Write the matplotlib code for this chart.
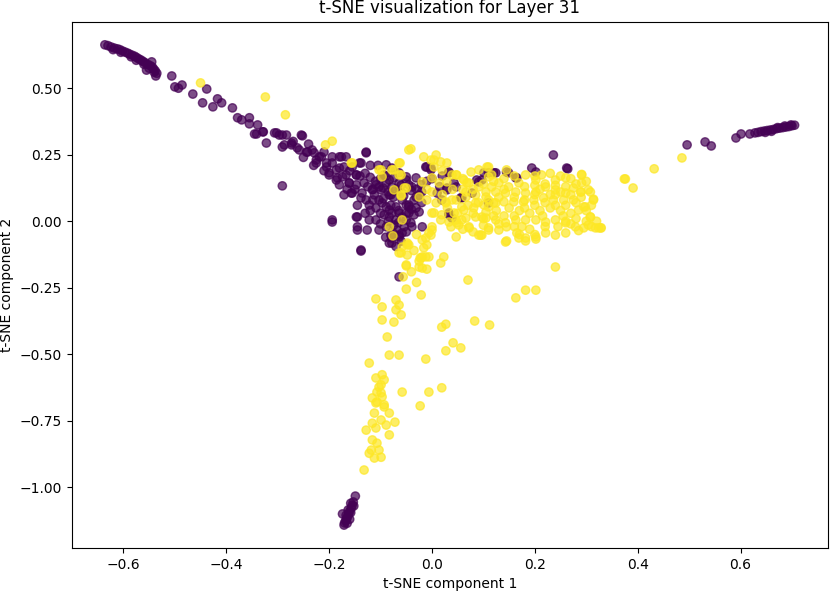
import numpy as np
import matplotlib
matplotlib.use('Agg')
import matplotlib.pyplot as plt

# Puntos de la clase 0 (morado)
clase0_x = [
    -0.636, -0.630, -0.624, -0.618, -0.612, -0.607, -0.602, -0.597, -0.592, -0.588,
    -0.583, -0.578, -0.574, -0.570, -0.566, -0.562, -0.558, -0.553, -0.548, -0.544,
    -0.541, -0.538, -0.535, -0.540, -0.550, -0.560, -0.545, -0.575, -0.585, -0.555,
    -0.537, -0.605, -0.620,
    -0.506, -0.500, -0.486, -0.493, -0.465, -0.446, -0.438, -0.426, -0.417, -0.409,
    -0.388, -0.378, -0.370, -0.355, -0.355, -0.339, -0.341, -0.328, -0.322, -0.306,
    -0.297, -0.283, -0.291, -0.273, -0.252, -0.262, -0.244, -0.233, -0.225, -0.219,
    -0.205, -0.194, -0.180, -0.167, -0.128, -0.138, -0.155, -0.200, -0.186, -0.174,
    -0.161, -0.291, -0.147, -0.132, -0.155, -0.138, -0.116, -0.103, -0.083, -0.078,
    -0.058, -0.103, -0.089, -0.078, -0.050, -0.050, -0.147, -0.194,
    -0.345, -0.329, -0.302, -0.291, -0.287, -0.273, -0.254, -0.258, -0.242, -0.229,
    -0.225, -0.215, -0.205, -0.194, -0.186, -0.176, -0.171, -0.200, -0.184, -0.167,
    -0.161, -0.147, -0.141, -0.128, -0.147, -0.136, -0.128, -0.157, -0.109, -0.099,
    -0.089, -0.089, -0.078, -0.083, -0.064, -0.050, -0.045, -0.031, -0.021, -0.097,
    -0.109, -0.083, -0.070, -0.058, -0.045, -0.031, -0.109, -0.083, -0.070, -0.058,
    -0.045, -0.089, -0.068, -0.054, -0.041, -0.078, -0.064, -0.083, -0.122, -0.126,
    -0.145, -0.145, -0.194, -0.138, -0.012, -0.002, 0.033, 0.029, 0.047, 0.058,
    0.033, 0.039, -0.019, 0.010, 0.019, 0.097, 0.110, 0.124,
    -0.064, -0.050, -0.039, -0.045, -0.031, -0.064, -0.050, -0.039, -0.058, -0.010,
    -0.002, 0.033, 0.043, 0.029, 0.056, 0.078, 0.087, 0.101, 0.120, 0.110,
    0.033, 0.149, 0.165, 0.194, 0.202, 0.236, 0.262, 0.163, 0.145, 0.091,
    -0.145, -0.138, -0.078, -0.064, -0.080, -0.064,
    -0.093, -0.074, -0.080, -0.064, -0.093, -0.074, -0.103, -0.035, -0.025, -0.112,
    -0.122, -0.171, -0.180,
    # núcleo denso
    -0.130, -0.120, -0.110, -0.100, -0.090, -0.125, -0.115, -0.095, -0.085, -0.070,
    -0.060, -0.040, -0.030, -0.020, -0.115, -0.095, -0.075, -0.055, -0.035, -0.020,
    -0.120, -0.100, -0.080, -0.065, -0.040, -0.025, -0.100, -0.085, -0.065, -0.050,
    -0.075, -0.090, -0.060, -0.070, -0.165, -0.180, -0.160, -0.210, -0.230, -0.250,
    -0.140, -0.120, -0.105, -0.010, 0.000, 0.015, 0.020, -0.145, -0.130, -0.150,
    -0.270, -0.240, -0.210,
    # grupo inferior
    -0.149, -0.153, -0.155, -0.157, -0.160, -0.162, -0.164, -0.166, -0.168, -0.170,
    -0.171, -0.174, -0.158, -0.163, -0.167, -0.160, -0.165, -0.152, -0.158,
    # brazo derecho
    0.496, 0.531, 0.543, 0.591, 0.601, 0.618, 0.628, 0.634, 0.640, 0.646,
    0.652, 0.658, 0.664, 0.670, 0.676, 0.682, 0.688, 0.694, 0.700, 0.705,
    0.698, 0.686, 0.672, 0.660, 0.648, 0.264,
]
clase0_y = [
    0.663, 0.660, 0.655, 0.651, 0.648, 0.645, 0.640, 0.636, 0.632, 0.628,
    0.624, 0.620, 0.615, 0.610, 0.606, 0.601, 0.596, 0.590, 0.585, 0.580,
    0.572, 0.565, 0.556, 0.560, 0.575, 0.590, 0.599, 0.605, 0.618, 0.568,
    0.546, 0.635, 0.645,
    0.546, 0.505, 0.512, 0.500, 0.478, 0.445, 0.497, 0.430, 0.460, 0.445,
    0.426, 0.389, 0.381, 0.389, 0.366, 0.362, 0.328, 0.336, 0.294, 0.332,
    0.324, 0.324, 0.279, 0.287, 0.321, 0.276, 0.260, 0.268, 0.230, 0.242,
    0.219, 0.219, 0.242, 0.242, 0.257, 0.219, 0.204, 0.182, 0.155, 0.167,
    0.144, 0.133, 0.174, 0.144, 0.106, 0.088, 0.118, 0.129, 0.155, 0.129,
    0.106, 0.080, 0.054, 0.031, 0.061, 0.031, 0.016, 0.005,
    0.328, 0.336, 0.332, 0.324, 0.287, 0.294, 0.324, 0.268, 0.260, 0.257,
    0.219, 0.242, 0.204, 0.242, 0.193, 0.242, 0.204, 0.174, 0.163, 0.174,
    0.144, 0.174, 0.219, 0.260, 0.137, 0.106, 0.080, 0.106, 0.137, 0.118,
    0.144, 0.212, 0.200, 0.099, 0.144, 0.167, 0.137, 0.163, 0.137, 0.069,
    0.050, 0.042, 0.054, 0.080, 0.061, 0.050, 0.005, 0.016, 0.005, 0.016,
    0.031, -0.021, -0.033, -0.021, -0.006, -0.063, -0.059, -0.082, 0.005, -0.033,
    0.016, -0.021, -0.003, -0.108, 0.204, 0.200, 0.182, 0.118, 0.129, 0.088,
    0.024, 0.012, -0.021, 0.106, 0.080, 0.155, 0.182, 0.182,
    0.182, 0.155, 0.129, 0.054, 0.091, 0.031, 0.005, -0.021, -0.044, 0.204,
    0.193, 0.185, 0.144, 0.125, 0.088, 0.106, 0.155, 0.182, 0.182, 0.069,
    0.031, 0.182, 0.163, 0.200, 0.185, 0.249, 0.200, 0.163, 0.185, 0.148,
    -0.033, -0.112, -0.082, -0.209, -0.052, -0.052,
    0.174, 0.163, 0.099, 0.110, 0.024, -0.014, -0.033, 0.024, 0.099, 0.099,
    0.061, 0.099, 0.137,
    0.180, 0.165, 0.150, 0.160, 0.170, 0.130, 0.120, 0.125, 0.110, 0.120,
    0.135, 0.115, 0.120, 0.110, 0.080, 0.085, 0.090, 0.095, 0.080, 0.070,
    0.040, 0.030, 0.060, 0.040, 0.045, 0.035, -0.010, 0.000, -0.005, -0.040,
    -0.045, -0.060, -0.075, -0.095, 0.120, 0.200, 0.190, 0.190, 0.210, 0.240,
    0.170, 0.210, 0.210, 0.150, 0.160, 0.130, 0.170, 0.060, 0.030, 0.120,
    0.300, 0.290, 0.260,
    -1.033, -1.055, -1.067, -1.078, -1.090, -1.100, -1.110, -1.118, -1.126, -1.134,
    -1.142, -1.100, -1.060, -1.085, -1.105, -1.120, -1.135, -1.070, -1.095,
    0.287, 0.298, 0.283, 0.313, 0.328, 0.328, 0.332, 0.334, 0.337, 0.339,
    0.341, 0.343, 0.345, 0.348, 0.350, 0.352, 0.354, 0.356, 0.359, 0.361,
    0.362, 0.358, 0.352, 0.338, 0.334, 0.197,
]

# Puntos de la clase 1 (amarillo)
clase1_x = [
    -0.450, -0.324, -0.285, -0.207, -0.194, -0.155, -0.103, -0.097, -0.078, -0.064,
    -0.064, -0.074, -0.060, -0.050, -0.045,
    -0.157, -0.099, -0.074, -0.062, -0.060, -0.054, -0.060, -0.041, -0.019, -0.025,
    -0.016, -0.002, 0.008, 0.017, 0.029, 0.004, 0.014, 0.029, 0.047, -0.010,
    0.008, 0.027, 0.039, 0.004, 0.017, 0.033, 0.048, 0.000, -0.002, -0.019,
    -0.016, -0.019, -0.006, 0.023, 0.017, -0.025, -0.045, -0.058, -0.060, -0.048,
    -0.083, -0.076, 0.062, 0.072, 0.076, 0.091, 0.107, 0.110, 0.091, 0.066,
    0.058, 0.085, 0.105, 0.110, 0.097, 0.058, 0.072, 0.091, 0.110, 0.124,
    0.047, 0.124, 0.116,
    0.004, 0.000, 0.039, 0.048, 0.068, 0.110, 0.116, 0.145, 0.130, 0.149,
    0.169, 0.182, 0.202, 0.213, 0.240, 0.260, 0.291, 0.291, 0.289, 0.304,
    0.314, 0.275, 0.260, 0.240, 0.221, 0.202, 0.182, 0.163, 0.143, 0.124,
    0.105, 0.085, 0.066, 0.047, 0.027, 0.000, 0.019, 0.043, 0.062, 0.081,
    0.101, 0.120, 0.140, 0.159, 0.178, 0.198, 0.217, 0.236, 0.256, 0.275,
    0.295, 0.285, 0.308, 0.304, 0.324, 0.329, 0.295, 0.279, 0.260, 0.240,
    0.221, 0.202, 0.182, 0.163, 0.143, 0.105, 0.085, 0.066, 0.047, 0.037,
    0.052, 0.072, 0.110, 0.130, 0.145, 0.165, 0.182, 0.202, 0.221, 0.240,
    0.260, 0.143, 0.095, 0.000, -0.012, -0.021, -0.050, 0.240, 0.376, 0.391,
    -0.064, -0.048, -0.058,
    0.180, 0.200, 0.220, 0.240, 0.260, 0.150, 0.170, 0.190, 0.210, 0.230,
    0.250, 0.270, 0.230, 0.250, 0.270, 0.290, 0.300, 0.310, 0.320, 0.310,
    0.285, 0.255, 0.215, 0.175, 0.125, 0.105,
    # relleno de la nube principal
    0.060, 0.080, 0.100, 0.120, 0.140, 0.160, 0.200, 0.230, 0.250, 0.270,
    0.280, 0.300, 0.140, 0.160, 0.180, 0.200, 0.210, 0.240, 0.260, 0.280,
    0.290, 0.130, 0.110, 0.090, 0.070, 0.080, 0.100, 0.120, 0.140, 0.160,
    0.180, 0.200, 0.220, 0.240, 0.260, 0.280, 0.220, 0.190, 0.160, 0.130,
    0.100, 0.080, 0.060, 0.050, 0.030, 0.020, 0.040, 0.060, 0.020, 0.000,
    -0.010, 0.245, 0.270, 0.300, 0.200, 0.170,
    -0.030, -0.035, -0.025, -0.040, -0.030, -0.010,
    # brazo derecho y brazo inferior
    0.291, 0.308, 0.314, 0.298, 0.308, 0.328, 0.318, 0.374, 0.432, 0.486,
    0.097, 0.145, 0.169, 0.182, 0.202, -0.006, -0.010, -0.012, -0.048, -0.023,
    -0.019, -0.050, 0.070, -0.056, -0.050, -0.021, -0.109, -0.097, -0.070, -0.064,
    -0.070, -0.060, -0.097, -0.074, -0.087, -0.083, -0.064, -0.122, -0.012, 0.019,
    0.027, 0.083, 0.112, 0.041, 0.056, 0.027, 0.163, 0.182, 0.202,
    -0.109, -0.097, -0.093, -0.103, -0.099, -0.116, -0.107, -0.093, -0.058, -0.006,
    0.019, -0.023, -0.099, -0.107, -0.097, -0.109, -0.093, -0.112, -0.083, -0.099,
    -0.116, -0.128, -0.109, -0.089, -0.072, -0.083, -0.116, -0.107, -0.118, -0.103,
    -0.112, -0.099, -0.122, -0.132,
]
clase1_y = [
    0.520, 0.467, 0.400, 0.287, 0.301, 0.219, 0.193, 0.167, 0.193, 0.219,
    0.174, 0.118, 0.099, 0.125, 0.268,
    0.219, 0.193, 0.193, 0.219, 0.174, 0.125, 0.095, 0.272, 0.148, 0.091,
    0.242, 0.230, 0.249, 0.223, 0.219, 0.204, 0.144, 0.148, 0.174, 0.080,
    0.069, 0.069, 0.080, 0.031, 0.005, -0.003, -0.006, -0.021, -0.052, -0.070,
    -0.100, -0.134, -0.134, -0.134, -0.157, -0.172, -0.089, -0.097, -0.119, -0.127,
    -0.021, -0.055, 0.155, 0.144, 0.185, 0.193, 0.204, 0.167, 0.129, 0.110,
    0.054, 0.069, 0.091, 0.054, 0.016, 0.005, -0.021, -0.052, -0.033, 0.005,
    -0.059, 0.069, 0.129,
    0.230, 0.163, 0.174, 0.174, 0.144, 0.204, 0.174, 0.193, 0.144, 0.129,
    0.144, 0.174, 0.155, 0.174, 0.155, 0.163, 0.174, 0.144, 0.110, 0.118,
    0.080, 0.125, 0.106, 0.118, 0.129, 0.110, 0.106, 0.110, 0.106, 0.110,
    0.110, 0.099, 0.091, 0.080, 0.073, 0.031, 0.024, 0.031, 0.042, 0.050,
    0.061, 0.069, 0.073, 0.073, 0.073, 0.080, 0.088, 0.080, 0.080, 0.080,
    0.054, 0.042, 0.016, -0.014, -0.025, -0.025, -0.025, -0.021, -0.006, 0.005,
    -0.003, 0.005, 0.005, 0.005, -0.006, 0.012, 0.016, 0.012, 0.005, -0.021,
    -0.014, -0.025, -0.025, -0.033, -0.021, -0.044, -0.063, -0.059, -0.044, -0.052,
    -0.044, -0.078, -0.052, -0.033, -0.063, -0.138, -0.164, -0.172, 0.159, 0.125,
    -0.119, -0.089, 0.005,
    0.130, 0.135, 0.140, 0.135, 0.130, 0.050, 0.040, 0.030, 0.040, 0.050,
    0.040, 0.030, 0.100, 0.110, 0.100, 0.090, 0.040, 0.060, 0.000, -0.020,
    -0.035, 0.020, 0.020, -0.020, 0.040, 0.035,
    0.120, 0.120, 0.140, 0.150, 0.160, 0.170, 0.170, 0.180, 0.170, 0.160,
    0.140, 0.150, 0.120, 0.090, 0.080, 0.100, 0.120, 0.100, 0.060, 0.070,
    0.110, 0.090, 0.080, 0.070, 0.060, 0.030, 0.010, 0.020, 0.020, 0.020,
    0.050, 0.060, 0.070, 0.060, 0.000, 0.010, -0.020, -0.030, -0.020, -0.010,
    -0.015, -0.040, -0.030, 0.030, 0.050, 0.100, 0.120, 0.160, 0.190, 0.110,
    0.120, -0.020, -0.010, 0.000, -0.050, -0.050,
    -0.050, -0.110, -0.150, -0.190, -0.230, -0.180,
    0.176, 0.110, 0.083, 0.054, 0.016, -0.025, -0.025, 0.159, 0.197, 0.238,
    -0.052, -0.074, -0.063, -0.074, -0.067, -0.044, -0.089, -0.134, -0.082, -0.138,
    -0.176, -0.168, -0.221, -0.209, -0.255, -0.277, -0.292, -0.322, -0.296, -0.315,
    -0.333, -0.352, -0.371, -0.379, -0.435, -0.503, -0.503, -0.533, -0.518, -0.398,
    -0.387, -0.375, -0.390, -0.457, -0.476, -0.487, -0.288, -0.259, -0.259,
    -0.589, -0.577, -0.596, -0.623, -0.645, -0.664, -0.679, -0.690, -0.642, -0.642,
    -0.626, -0.694, -0.615, -0.642, -0.660, -0.683, -0.698, -0.721, -0.721, -0.747,
    -0.759, -0.785, -0.777, -0.766, -0.755, -0.803, -0.822, -0.834, -0.860, -0.860,
    -0.890, -0.887, -0.872, -0.935,
]

x = np.array(clase0_x + clase1_x)
y = np.array(clase0_y + clase1_y)
etiquetas = np.array([0] * len(clase0_x) + [1] * len(clase1_x))

fig = plt.figure(figsize=(8.31, 5.91), dpi=100)
ax = fig.add_axes([0.0866, 0.0728, 0.9098, 0.8905])
ax.scatter(x, y, c=etiquetas, cmap='viridis', alpha=0.7)
ax.set_xlim(-0.70, 0.77)
ax.set_ylim(-1.228, 0.750)
ax.set_xticks([-0.6, -0.4, -0.2, 0.0, 0.2, 0.4, 0.6])
ax.set_yticks([-1.00, -0.75, -0.50, -0.25, 0.00, 0.25, 0.50])
ax.set_title('t-SNE visualization for Layer 31')
ax.set_xlabel('t-SNE component 1')
ax.set_ylabel('t-SNE component 2')
fig.savefig('out.png', dpi=100)
